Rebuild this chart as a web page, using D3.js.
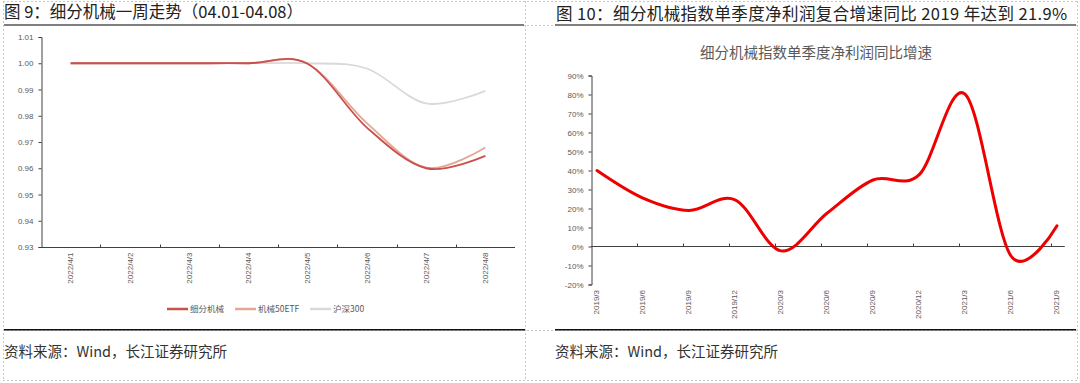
<!DOCTYPE html>
<html>
<head>
<meta charset="utf-8">
<script src="https://cdn.jsdelivr.net/npm/d3@7"></script>
<style>
  body { margin: 0; background: #fff; }
  svg { display: block; font-family: "Liberation Sans", Arial, sans-serif; }
  .cjk { font-family: "Noto Sans CJK SC", "Noto Sans", sans-serif; }
</style>
</head>
<body>
<svg id="chart" width="1080" height="383"></svg>
<script>
// figure 9 data
var dates9 = ["2022/4/1", "2022/4/2", "2022/4/3", "2022/4/4", "2022/4/5", "2022/4/6", "2022/4/7", "2022/4/8"];
var xifen = [1.000, 1.000, 1.000, 1.000, 0.9998, 0.9755, 0.9600, 0.9647];
var etf50 = [1.000, 1.000, 1.000, 1.000, 0.9998, 0.9772, 0.9602, 0.9679];
var hs300 = [1.000, 1.000, 1.000, 1.000, 1.000, 0.998, 0.9847, 0.9895];
var yTicks9 = [0.93, 0.94, 0.95, 0.96, 0.97, 0.98, 0.99, 1.00, 1.01];
var legend9 = ["细分机械", "机械50ETF", "沪深300"];

// figure 10 data
var quarters10 = ["2019/3", "2019/6", "2019/9", "2019/12", "2020/3", "2020/6", "2020/9", "2020/12", "2021/3", "2021/6", "2021/9"];
var growth10 = [40, 25.5, 19, 24.6, -2.3, 17.5, 35, 37.7, 80.2, -5, 10.9];
var yTicks10 = [-20, -10, 0, 10, 20, 30, 40, 50, 60, 70, 80, 90];

var svg = d3.select("#chart");

// table frame (dashed cell borders)
var dash = svg.append("g")
  .attr("stroke", "#c8c8c8")
  .attr("stroke-dasharray", "2,2")
  .attr("stroke-width", 1);
[1, 25, 330, 380].forEach(function(y) {
  dash.append("line").attr("x1", 3).attr("x2", 1077).attr("y1", y + 0.5).attr("y2", y + 0.5);
});
[3, 525, 1077].forEach(function(x) {
  dash.append("line").attr("x1", x + 0.5).attr("x2", x + 0.5).attr("y1", 1).attr("y2", 380);
});

// titles + rules
svg.append("rect").attr("x", 4).attr("y", 24).attr("width", 520).attr("height", 2).attr("fill", "#7f7f7f");
svg.append("rect").attr("x", 555).attr("y", 24).attr("width", 521).attr("height", 2).attr("fill", "#7f7f7f");
svg.append("rect").attr("x", 4).attr("y", 329).attr("width", 521).attr("height", 1.5).attr("fill", "#111");
svg.append("rect").attr("x", 555).attr("y", 329).attr("width", 521).attr("height", 1.5).attr("fill", "#111");

svg.append("text").attr("class", "cjk").attr("x", 4).attr("y", 18)
  .attr("font-size", 16.5).attr("fill", "#222")
  .text("图 9：细分机械一周走势（04.01-04.08）");
svg.append("text").attr("class", "cjk").attr("x", 556).attr("y", 20)
  .attr("font-size", 16.5).attr("fill", "#222").attr("letter-spacing", 0.4)
  .text("图 10：细分机械指数单季度净利润复合增速同比 2019 年达到 21.9%");

svg.append("text").attr("class", "cjk").attr("x", 4).attr("y", 357)
  .attr("font-size", 14.5).attr("fill", "#333")
  .text("资料来源：Wind，长江证券研究所");
svg.append("text").attr("class", "cjk").attr("x", 555).attr("y", 357)
  .attr("font-size", 14.5).attr("fill", "#333")
  .text("资料来源：Wind，长江证券研究所");

//Figure 9

var x9 = d3.scaleBand().domain(dates9).range([41, 515]);
var y9 = d3.scaleLinear().domain([0.93, 1.01]).range([247, 37]);
var g9 = svg.append("g");

var yAxis9 = g9.append("g")
  .attr("transform", "translate(41.5,0)")
  .call(d3.axisLeft(y9).tickValues(yTicks9).tickFormat(d3.format(".2f")).tickSize(3).tickPadding(5));
yAxis9.select(".domain").attr("stroke", "#404040");
yAxis9.selectAll(".tick line").attr("stroke", "#404040");
yAxis9.selectAll("text").attr("font-size", 8).attr("fill", "#595959");

var xAxis9 = g9.append("g").attr("transform", "translate(0,247.5)");
xAxis9.append("line").attr("x1", 41).attr("x2", 515).attr("stroke", "#404040");
xAxis9.selectAll(".tk").data(dates9.slice(1)).enter().append("line")
  .attr("x1", function(d) { return Math.round(x9(d)) + 0.5; })
  .attr("x2", function(d) { return Math.round(x9(d)) + 0.5; })
  .attr("y1", 0).attr("y2", -3).attr("stroke", "#404040");
xAxis9.selectAll(".lb").data(dates9).enter().append("text")
  .attr("transform", function(d) { return "translate(" + (x9(d) + x9.bandwidth() / 2) + ",5) rotate(-90)"; })
  .attr("text-anchor", "end").attr("dy", "0.35em")
  .attr("font-size", 8).attr("fill", "#595959")
  .text(function(d) { return d; });

var line9 = d3.line()
  .x(function(d, i) { return x9(dates9[i]) + x9.bandwidth() / 2; })
  .y(function(d) { return y9(d); })
  .curve(d3.curveCardinal.tension(0));

var colors9 = ["#c9504f", "#e3a794", "#d9d9d9"];
var series9 = [hs300, etf50, xifen];
var seriesColors = ["#d9d9d9", "#e3a794", "#c9504f"];
series9.forEach(function(s, i) {
  g9.append("path")
    .attr("d", line9(s))
    .attr("fill", "none")
    .attr("stroke", seriesColors[i])
    .attr("stroke-width", 1.8);
});

// legend
var legendX = [167, 235, 310];
legend9.forEach(function(name, i) {
  var lg = g9.append("g").attr("transform", "translate(" + legendX[i] + ",309)");
  lg.append("line").attr("x1", 0).attr("x2", 21).attr("stroke", colors9[i]).attr("stroke-width", 2.5);
  lg.append("text").attr("class", "cjk").attr("x", 23).attr("dy", "0.35em")
    .attr("font-size", 8.5).attr("fill", "#595959").text(name);
});

//Figure 10

var x10 = d3.scaleLinear().domain([0, quarters10.length - 1]).range([597, 1057]);
var y10 = d3.scaleLinear().domain([-20, 90]).range([284.5, 75.5]);
var g10 = svg.append("g");

g10.append("text").attr("class", "cjk").attr("x", 816).attr("y", 58)
  .attr("text-anchor", "middle").attr("font-size", 14.5).attr("fill", "#595959")
  .text("细分机械指数单季度净利润同比增速");

var yAxis10 = g10.append("g")
  .attr("transform", "translate(591.5,0)")
  .call(d3.axisLeft(y10).tickValues(yTicks10).tickFormat(function(d) { return d + "%"; }).tickSize(3).tickPadding(5));
yAxis10.select(".domain").attr("stroke", "#404040");
yAxis10.selectAll(".tick line").attr("stroke", "#404040");
yAxis10.selectAll("text").attr("font-size", 8).attr("fill", "#595959");

var xAxis10 = g10.append("g").attr("transform", "translate(0," + (Math.round(y10(0)) + 0.5) + ")");
xAxis10.append("line").attr("x1", 591).attr("x2", x10(10.17)).attr("stroke", "#404040");
xAxis10.selectAll(".tk").data(d3.range(1, quarters10.length)).enter().append("line")
  .attr("x1", function(i) { return Math.round(x10(i - 0.13)) + 0.5; })
  .attr("x2", function(i) { return Math.round(x10(i - 0.13)) + 0.5; })
  .attr("y1", 0).attr("y2", -3).attr("stroke", "#404040");
g10.selectAll(".lb10").data(quarters10).enter().append("text")
  .attr("transform", function(d, i) { return "translate(" + (x10(i) - 1) + ",290) rotate(-90)"; })
  .attr("text-anchor", "end").attr("dy", "0.35em")
  .attr("font-size", 8).attr("fill", "#595959")
  .text(function(d) { return d; });

var line10 = d3.line()
  .x(function(d, i) { return x10(i); })
  .y(function(d) { return y10(d); })
  .curve(d3.curveCardinal.tension(0));

g10.append("path")
  .attr("d", line10(growth10))
  .attr("fill", "none")
  .attr("stroke", "#ee0000")
  .attr("stroke-width", 3)
  .attr("stroke-linecap", "round");
</script>
</body>
</html>
